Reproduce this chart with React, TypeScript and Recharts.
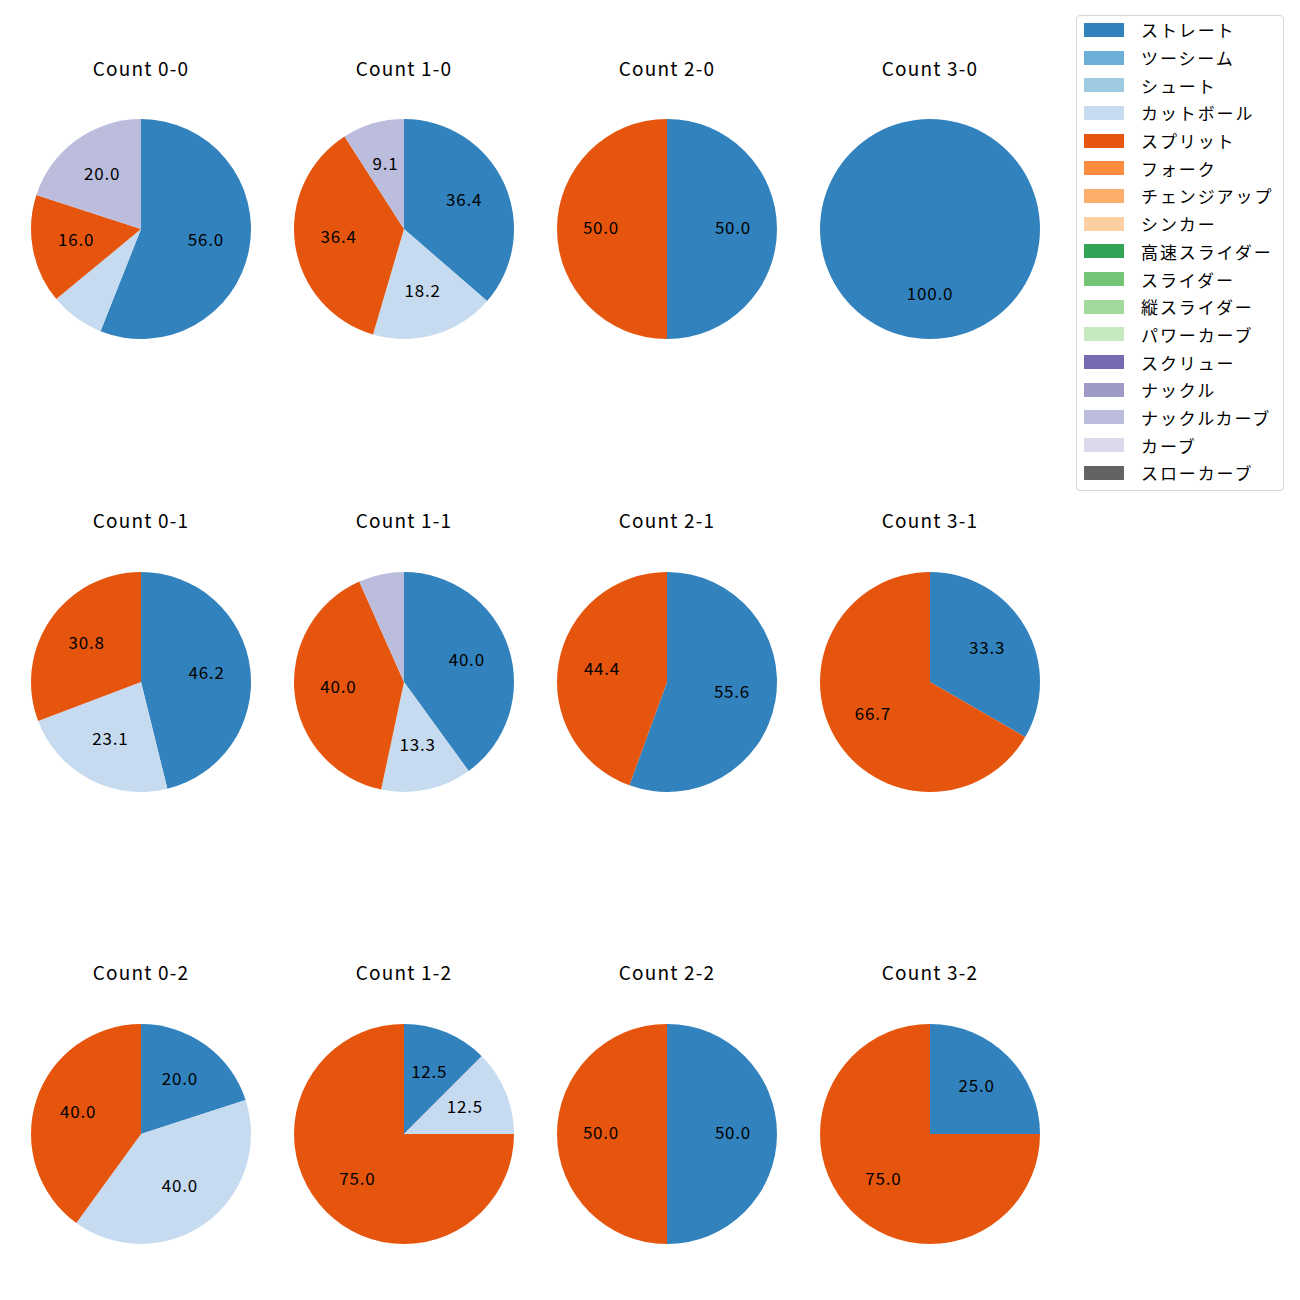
import React from 'react';
import { PieChart, Pie, Cell, Legend } from 'recharts';

// pitch counts per ball-strike count (order matches countLabels)
const countLabels = ['0-0', '1-0', '2-0', '3-0', '0-1', '1-1', '2-1', '3-1', '0-2', '1-2', '2-2', '3-2'];
const straight = [14, 4, 1, 1, 6, 6, 5, 1, 1, 1, 1, 1];
const cutter = [2, 2, 0, 0, 3, 2, 0, 0, 2, 1, 0, 0];
const splitter = [4, 4, 1, 0, 4, 6, 4, 2, 2, 6, 1, 3];
const knuckleCurve = [5, 1, 0, 0, 0, 1, 0, 0, 0, 0, 0, 0];

const pitchTypes = [
  'ストレート', 'ツーシーム', 'シュート', 'カットボール', 'スプリット', 'フォーク',
  'チェンジアップ', 'シンカー', '高速スライダー', 'スライダー', '縦スライダー',
  'パワーカーブ', 'スクリュー', 'ナックル', 'ナックルカーブ', 'カーブ', 'スローカーブ',
];
const pitchColors = [
  '#3182bd', '#6baed6', '#9ecae1', '#c6dbef', '#e6550d', '#fd8d3c',
  '#fdae6b', '#fdd0a2', '#31a354', '#74c476', '#a1d99b', '#c7e9c0',
  '#756bb1', '#9e9ac8', '#bcbddc', '#dadaeb', '#636363',
];

const seriesByType: Record<string, number[]> = {
  'ストレート': straight,
  'カットボール': cutter,
  'スプリット': splitter,
  'ナックルカーブ': knuckleCurve,
};

const colX = [141, 404, 667, 930];
const rowY = [229, 682, 1134];
const titleY = [69, 521, 973];
const RADIUS = 110;
const FONT = '"Noto Sans CJK JP", "Noto Sans", sans-serif';

const pieData = countLabels.map((_, i) =>
  pitchTypes
    .map((name, t) => ({ name, value: seriesByType[name] ? seriesByType[name][i] : 0, color: pitchColors[t] }))
    .filter((d) => d.value > 0)
);

const RAD = Math.PI / 180;
const renderLabel = (props: any) => {
  const { cx, cy, midAngle, outerRadius, percent } = props;
  const pct = percent * 100;
  if (pct < 9) return null;
  const r = outerRadius * 0.6;
  const x = cx + r * Math.cos(-midAngle * RAD);
  const y = cy + r * Math.sin(-midAngle * RAD);
  return (
    <text
      x={x}
      y={y - 3}
      textAnchor="middle"
      dominantBaseline="central"
      fontSize={17}
      letterSpacing={0.8}
      fill="#000"
      fontFamily={FONT}
    >
      {pct.toFixed(1)}
    </text>
  );
};

const renderLegend = () => (
  <div
    style={{
      border: '1px solid #d6d6d6',
      borderRadius: 4,
      background: '#fff',
      padding: '0 6px 3px 7px',
      width: 193,
      fontFamily: FONT,
    }}
  >
    {pitchTypes.map((name, i) => (
      <div key={name} style={{ display: 'flex', alignItems: 'center', height: 27.7, whiteSpace: 'nowrap' }}>
        <span style={{ display: 'inline-block', flex: 'none', width: 40, height: 14, background: pitchColors[i] }} />
        <span style={{ marginLeft: 17, fontSize: 17, color: '#000', letterSpacing: 1.9 }}>{name}</span>
      </div>
    ))}
  </div>
);

export default function App() {
  return (
    <div style={{ position: 'absolute', left: 0, top: 0, width: 1300, height: 1300, background: '#fff' }}>
      <PieChart width={1300} height={1300} margin={{ top: 0, right: 0, bottom: 0, left: 0 }}>
        {pieData.map((data, i) => (
          <Pie
            key={countLabels[i]}
            data={data}
            dataKey="value"
            nameKey="name"
            cx={colX[i % 4]}
            cy={rowY[Math.floor(i / 4)]}
            outerRadius={RADIUS}
            startAngle={90}
            endAngle={-270}
            stroke="none"
            label={renderLabel}
            labelLine={false}
            isAnimationActive={false}
          >
            {data.map((d) => (
              <Cell key={d.name} fill={d.color} />
            ))}
          </Pie>
        ))}
        <Legend
          content={renderLegend}
          wrapperStyle={{ position: 'absolute', left: 1076, top: 15, width: 208 }}
        />
      </PieChart>
      {countLabels.map((c, i) => (
        <div
          key={c}
          style={{
            position: 'absolute',
            left: colX[i % 4] - 100,
            width: 200,
            top: titleY[Math.floor(i / 4)] - 13,
            textAlign: 'center',
            fontFamily: FONT,
            fontSize: 19,
            letterSpacing: 1.2,
            lineHeight: '24px',
            color: '#000',
          }}
        >
          Count {c}
        </div>
      ))}
    </div>
  );
}
